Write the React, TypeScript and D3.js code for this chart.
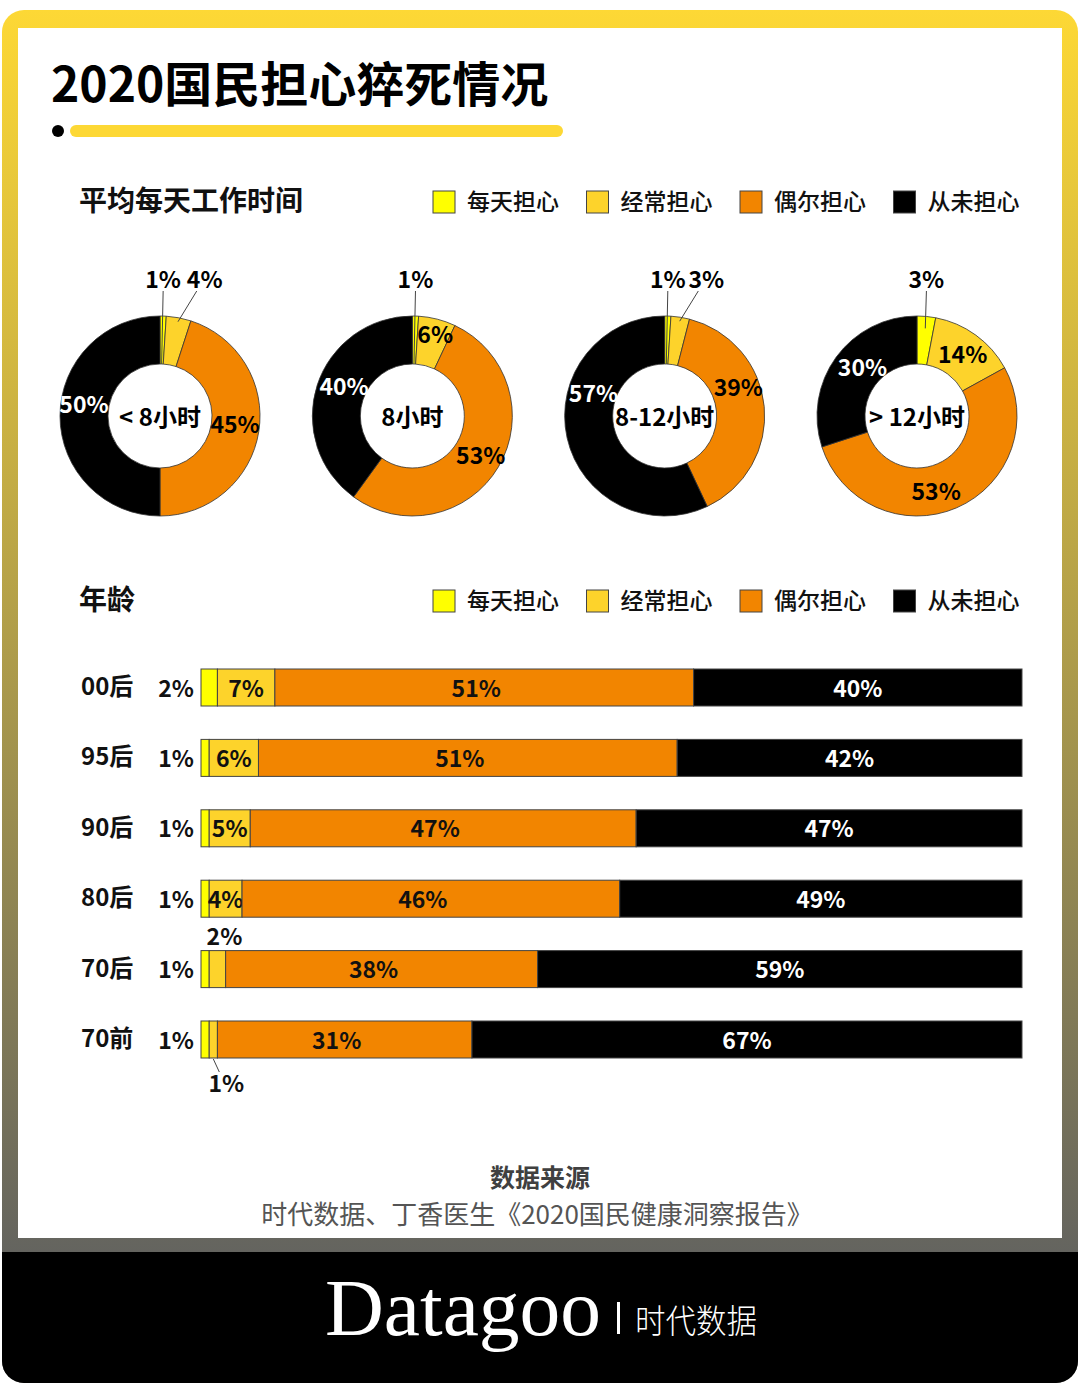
import * as d3 from "d3";

// categories
const statusNames = ["每天担心", "经常担心", "偶尔担心", "从未担心"];
const statusKeys = ["daily", "often", "sometimes", "never"];
const statusColors = ["#FFFF00", "#FDD32B", "#F28500", "#000000"];

// donuts: average working hours per day
const hourGroups = ["< 8小时", "8小时", "8-12小时", "> 12小时"];
const hourLess8 = [1, 4, 45, 50];
const hour8 = [1, 6, 53, 40];
const hour8to12 = [1, 3, 39, 57];
const hourOver12 = [3, 14, 53, 30];
const hourSeries = [hourLess8, hour8, hour8to12, hourOver12];

// bars: age groups
const ageGroups = ["00后", "95后", "90后", "80后", "70后", "70前"];
const dailyByAge = [2, 1, 1, 1, 1, 1];
const oftenByAge = [7, 6, 5, 4, 2, 1];
const sometimesByAge = [51, 51, 47, 46, 38, 31];
const neverByAge = [40, 42, 47, 49, 59, 67];

// label tweaks (layout only)
const donutNudge = [
  [[0, 0], [0, 0], [0, -3], [0, -11]],
  [[0, 0], [4, -7], [3, 1], [4, -6]],
  [[0, 0], [0, 0], [-2, -21], [3, -39]],
  [[0, 0], [1, 0], [-11, 6], [7, -3]],
];
const oftenLabelSide = ["in", "in", "in", "in", "above", "below"];

const W = 1080;
const H = 1399;
const FONT = "'Noto Sans CJK SC', 'Noto Sans', sans-serif";

const Legend = ({ y }: { y: number }) => (
  <g>
    {statusNames.map((n, i) => {
      const x = 433 + i * 153.5;
      return (
        <g key={n}>
          <rect x={x} y={y} width={22} height={22} fill={statusColors[i]} stroke="#444" strokeWidth={1} />
          <text x={x + 34} y={y + 9} dominantBaseline="central" fontSize={23} fontWeight={500} fill="#111">
            {n}
          </text>
        </g>
      );
    })}
  </g>
);

export default function App() {
  // donuts
  const innerR = 52;
  const outerR = 100;
  const cy = 416;
  const cxScale = d3.scalePoint<number>().domain([0, 1, 2, 3]).range([160, 917]);
  const pie = d3.pie<number>().sort(null).value((d) => d);
  const arc = d3.arc<d3.PieArcDatum<number>>().innerRadius(innerR).outerRadius(outerR);

  // bars
  const rows = ageGroups.map((g, i) => ({
    group: g,
    daily: dailyByAge[i],
    often: oftenByAge[i],
    sometimes: sometimesByAge[i],
    never: neverByAge[i],
  }));
  const stack = d3.stack<any>().keys(statusKeys)(rows);
  const x = d3.scaleLinear().domain([0, 100]).range([201, 1022]);
  const y = d3.scalePoint<string>().domain(ageGroups).range([669, 1021]);
  const barH = 37;

  return (
    <svg
      width={W}
      height={H}
      viewBox={`0 0 ${W} ${H}`}
      style={{ position: "absolute", left: 0, top: 0, display: "block" }}
      fontFamily={FONT}
    >
      <defs>
        <linearGradient id="frame" x1="0" y1="10" x2="0" y2="1252" gradientUnits="userSpaceOnUse">
          <stop offset="0" stopColor="#FDD835" />
          <stop offset="1" stopColor="#64645F" />
        </linearGradient>
      </defs>
      <rect width={W} height={H} fill="#fff" />

      {/* frame */}
      <rect x={2} y={10} width={1076} height={1373} rx={22} fill="url(#frame)" />
      <path d="M2,1252 H1078 V1361 A22,22 0 0 1 1056,1383 H24 A22,22 0 0 1 2,1361 Z" fill="#000" />
      <rect x={18} y={28} width={1044} height={1210} fill="#fff" />

      {/* title */}
      <text x={51} y={102} fontSize={48} fontWeight={700} fill="#000">
        2020国民担心猝死情况
      </text>
      <circle cx={58} cy={131} r={6} fill="#000" />
      <rect x={70} y={125} width={493} height={12} rx={6} fill="#FDD835" />

      {/* section 1 */}
      <text x={79} y={199} dominantBaseline="central" fontSize={28} fontWeight={700} fill="#111">
        平均每天工作时间
      </text>
      <Legend y={191} />

      {hourSeries.map((vals, di) => {
        const cx = cxScale(di) ?? 0;
        const arcs = pie(vals);
        let k = 0;
        return (
          <g key={di}>
            <g transform={`translate(${cx},${cy})`}>
              {arcs.map((a, si) => (
                <path key={si} d={arc(a) ?? ""} fill={statusColors[si]} stroke="#333" strokeWidth={0.8} />
              ))}
            </g>
            {arcs.map((a, si) => {
              const mid = (a.startAngle + a.endAngle) / 2;
              if (a.data <= 4) {
                const px = cx + Math.sin(mid) * outerR;
                const lx = px + (k > 0 ? 26 : 0);
                const lineTopX = lx - (k > 0 ? 8 : 0);
                const rEnd = a.data <= 1 ? innerR : k > 0 ? outerR - 4 : outerR - 12;
                k += 1;
                return (
                  <g key={si}>
                    <line
                      x1={lineTopX}
                      y1={291}
                      x2={cx + Math.sin(mid) * rEnd}
                      y2={cy - Math.cos(mid) * rEnd}
                      stroke="#444"
                      strokeWidth={1}
                    />
                    <text x={lx} y={278} textAnchor="middle" dominantBaseline="central" fontSize={23} fontWeight={700} fill="#000">
                      {a.data}%
                    </text>
                  </g>
                );
              }
              const [mx, my] = arc.centroid(a);
              const [dx, dy] = donutNudge[di][si];
              return (
                <text
                  key={si}
                  x={cx + mx + dx}
                  y={cy + my + dy - 2}
                  textAnchor="middle"
                  dominantBaseline="central"
                  fontSize={23}
                  fontWeight={700}
                  fill={si === 3 ? "#fff" : "#000"}
                >
                  {a.data}%
                </text>
              );
            })}
            <text x={cx} y={cy - 1} textAnchor="middle" dominantBaseline="central" fontSize={24} fontWeight={700} fill="#000">
              {hourGroups[di]}
            </text>
          </g>
        );
      })}

      {/* section 2 */}
      <text x={79} y={598} dominantBaseline="central" fontSize={28} fontWeight={700} fill="#111">
        年龄
      </text>
      <Legend y={590} />

      {ageGroups.map((g) => (
        <text key={g} x={81} y={(y(g) ?? 0) + barH / 2 - 3} dominantBaseline="central" fontSize={24} fontWeight={700} fill="#111">
          {g}
        </text>
      ))}

      {stack.map((s, si) => (
        <g key={s.key}>
          {s.map((d, ri) => {
            const top = y(ageGroups[ri]) ?? 0;
            const x0 = x(d[0]);
            const x1 = x(d[1]);
            const v = d[1] - d[0];
            const cyBar = top + barH / 2 - 1;
            const mid = (x0 + x1) / 2;
            let label: any = null;
            if (si === 0) {
              label = (
                <text x={194} y={cyBar} textAnchor="end" dominantBaseline="central" fontSize={23} fontWeight={700} fill="#111">
                  {v}%
                </text>
              );
            } else if (si === 1 && oftenLabelSide[ri] === "above") {
              label = (
                <text x={mid + 7} y={top - 16} textAnchor="middle" dominantBaseline="central" fontSize={23} fontWeight={700} fill="#111">
                  {v}%
                </text>
              );
            } else if (si === 1 && oftenLabelSide[ri] === "below") {
              label = (
                <g>
                  <line x1={mid} y1={top + barH + 1} x2={mid + 6} y2={top + barH + 14} stroke="#444" strokeWidth={1} />
                  <text x={mid + 13} y={top + barH + 24} textAnchor="middle" dominantBaseline="central" fontSize={23} fontWeight={700} fill="#111">
                    {v}%
                  </text>
                </g>
              );
            } else {
              label = (
                <text
                  x={si === 2 ? mid - 8 : mid}
                  y={cyBar}
                  textAnchor="middle"
                  dominantBaseline="central"
                  fontSize={23}
                  fontWeight={700}
                  fill={si === 3 ? "#fff" : "#111"}
                >
                  {v}%
                </text>
              );
            }
            return (
              <g key={ri}>
                <rect x={x0} y={top} width={x1 - x0} height={barH} fill={statusColors[si]} stroke="#444" strokeWidth={1} />
                {label}
              </g>
            );
          })}
        </g>
      ))}

      {/* source */}
      <text x={540} y={1176} textAnchor="middle" dominantBaseline="central" fontSize={25} fontWeight={700} fill="#404040">
        数据来源
      </text>
      <text x={537} y={1212} textAnchor="middle" dominantBaseline="central" fontSize={26} fontWeight={400} fill="#555">
        时代数据、丁香医生《2020国民健康洞察报告》
      </text>

      {/* brand */}
      <text
        x={325}
        y={1335}
        fontFamily="'Liberation Serif', 'DejaVu Serif', serif"
        fontSize={80}
        fill="#fff"
        textLength={276}
        lengthAdjust="spacingAndGlyphs"
      >
        Datagoo
      </text>
      <rect x={617} y={1302} width={3} height={32} fill="#fff" />
      <text x={635} y={1333} fontSize={33} fontWeight={300} fill="#fff" textLength={122} lengthAdjust="spacingAndGlyphs">
        时代数据
      </text>
    </svg>
  );
}
